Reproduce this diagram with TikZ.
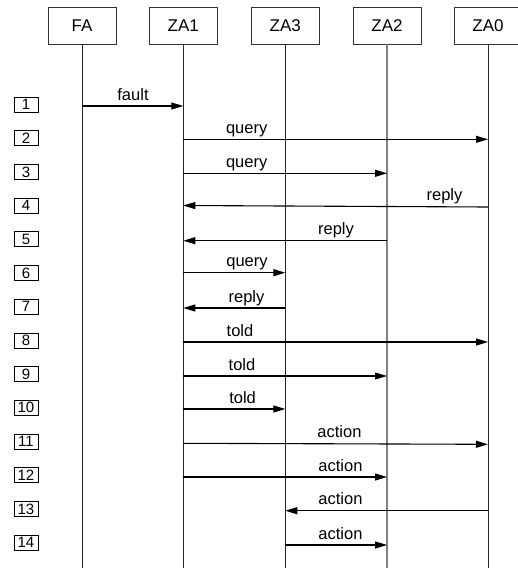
\documentclass[tikz,border=0pt]{standalone}
\usepackage{fontspec}
\setmainfont{Liberation Sans}
\usetikzlibrary{arrows.meta}
\begin{document}
\begin{tikzpicture}[x=1pt,y=-1pt,
  head/.style={draw=black!80,line width=0.9pt,minimum width=68pt,minimum height=37pt,inner sep=0pt,font=\fontsize{17}{19}\selectfont,fill=white},
  life/.style={draw=black!85,line width=1pt},
  lifegray/.style={draw=black!50,line width=1.2pt},
  msg/.style={draw=black,line width=1.1pt,-{Triangle[length=12pt,width=7pt]}},
  lbl/.style={anchor=base,inner sep=0pt,font=\fontsize{16.5}{18}\selectfont},
  num/.style={draw=black,line width=0.8pt,minimum width=24pt,minimum height=15pt,inner sep=0pt,font=\fontsize{15}{16}\selectfont}]
\clip (0,0) rectangle (518,568);
\fill[white] (0,0) rectangle (518,568);
% heads
\node[head] (FA)  at (82,25.5)  {FA};
\node[head] (ZA1) at (183.3,25.5) {ZA1};
\node[head] (ZA3) at (285.3,25.5) {ZA3};
\node[head] (ZA2) at (387,25.5) {ZA2};
\node[head] (ZA0) at (488,25.5) {ZA0};
\coordinate (bot) at (0,570);
\draw[life] (FA.south) -- (FA |- bot);
\draw[life] (ZA1.south) -- (ZA1 |- bot);
\draw[life] (ZA3.south) -- (ZA3 |- bot);
\draw[lifegray] (ZA2.south) -- (ZA2 |- bot);
\draw[life] (ZA0.south) -- (ZA0 |- bot);
% row coordinates
\coordinate (r1) at (0,106);
\coordinate (r2) at (0,139.3);
\coordinate (r3) at (0,173.3);
\coordinate (r4) at (0,205.5);
\coordinate (r4b) at (0,207);
\coordinate (r5) at (0,240.7);
\coordinate (r6) at (0,272.7);
\coordinate (r7) at (0,308);
\coordinate (r8) at (0,342);
\coordinate (r9) at (0,376);
\coordinate (r10) at (0,409);
\coordinate (r11) at (0,443.3);
\coordinate (r11b) at (0,444.3);
\coordinate (r12) at (0,477);
\coordinate (r13) at (0,510.7);
\coordinate (r14) at (0,545);
% messages
\draw[msg] (FA |- r1) -- (ZA1 |- r1);
\draw[msg] (ZA1 |- r2) -- (ZA0 |- r2);
\draw[msg] (ZA1 |- r3) -- (ZA2 |- r3);
\draw[msg] (ZA0 |- r4b) -- (ZA1 |- r4);
\draw[msg] (ZA2 |- r5) -- (ZA1 |- r5);
\draw[msg] (ZA1 |- r6) -- (ZA3 |- r6);
\draw[msg] (ZA3 |- r7) -- (ZA1 |- r7);
\draw[msg] (ZA1 |- r8) -- (ZA0 |- r8);
\draw[msg] (ZA1 |- r9) -- (ZA2 |- r9);
\draw[msg] (ZA1 |- r10) -- (ZA3 |- r10);
\draw[msg] (ZA1 |- r11) -- (ZA0 |- r11b);
\draw[msg] (ZA1 |- r12) -- (ZA2 |- r12);
\draw[msg] (ZA0 |- r13) -- (ZA3 |- r13);
\draw[msg] (ZA3 |- r14) -- (ZA2 |- r14);
% labels
\node[lbl] (l1) at (133,100) {fault};
\node[lbl] (l2) at (246.7,133.3) {query};
\node[lbl] (l3) at (246.7,167.3) {query};
\node[lbl] (l4) at (444.5,200) {reply};
\node[lbl] (l5) at (336,234.7) {reply};
\node[lbl] (l6) at (247,266.7) {query};
\node[lbl] (l7) at (246.5,302) {reply};
\node[lbl] (l8) at (240,336) {told};
\node[lbl] (l9) at (242,370) {told};
\node[lbl] (l10) at (242.6,403) {told};
\node[lbl] (l11) at (339.5,437.5) {action};
\node[lbl] (l12) at (340.5,471) {action};
\node[lbl] (l13) at (340.5,504.7) {action};
\node[lbl] (l14) at (340.5,539) {action};
% row numbers
\foreach \i in {1,...,14} {
  \node[num] (n\i) at (26,{104.5+(\i-1)*33.7}) {\i};
}
\end{tikzpicture}
\end{document}
